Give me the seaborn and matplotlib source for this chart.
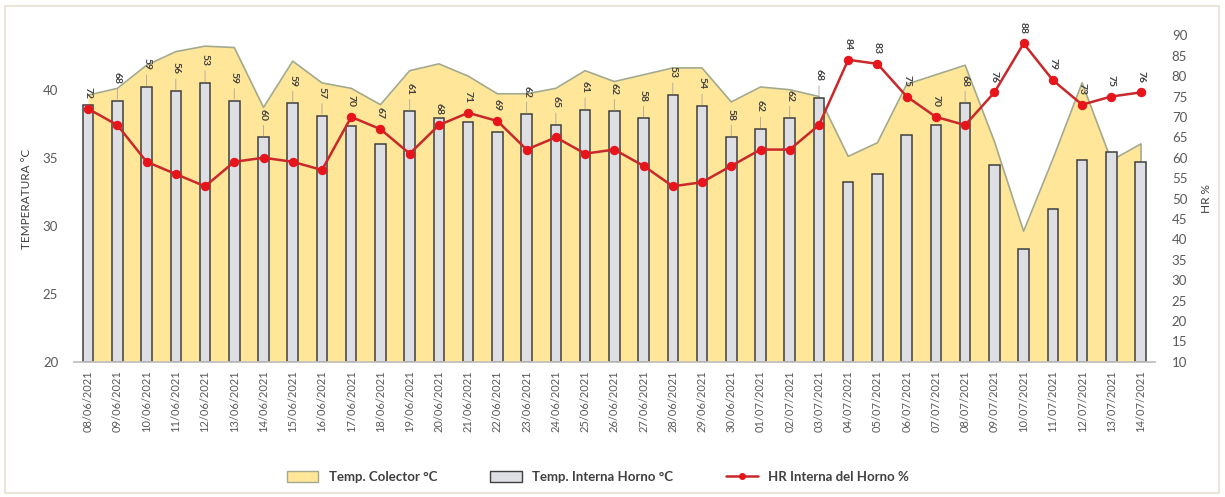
import numpy as np
import pandas as pd
import matplotlib
matplotlib.use('Agg')
import matplotlib.pyplot as plt
import seaborn as sns
from matplotlib.patches import Patch, Rectangle
from matplotlib.lines import Line2D

fechas = ['08/06/2021', '09/06/2021', '10/06/2021', '11/06/2021', '12/06/2021',
          '13/06/2021', '14/06/2021', '15/06/2021', '16/06/2021', '17/06/2021',
          '18/06/2021', '19/06/2021', '20/06/2021', '21/06/2021', '22/06/2021',
          '23/06/2021', '24/06/2021', '25/06/2021', '26/06/2021', '27/06/2021',
          '28/06/2021', '29/06/2021', '30/06/2021', '01/07/2021', '02/07/2021',
          '03/07/2021', '04/07/2021', '05/07/2021', '06/07/2021', '07/07/2021',
          '08/07/2021', '09/07/2021', '10/07/2021', '11/07/2021', '12/07/2021',
          '13/07/2021', '14/07/2021']

temp_colector = [39.6, 40.1, 41.8, 42.8, 43.2, 43.1, 38.7, 42.1, 40.5, 40.1,
                 38.9, 41.4, 41.9, 41.0, 39.7, 39.7, 40.1, 41.4, 40.6, 41.1,
                 41.6, 41.6, 39.1, 40.2, 40.0, 39.5, 35.1, 36.1, 40.4, 41.1,
                 41.8, 36.2, 29.6, 34.9, 40.5, 34.8, 36.0]

temp_horno = [38.9, 39.2, 40.2, 39.9, 40.5, 39.2, 36.5, 39.0, 38.1, 37.3,
              36.0, 38.4, 37.9, 37.6, 36.9, 38.2, 37.4, 38.5, 38.4, 37.9,
              39.6, 38.8, 36.5, 37.1, 37.9, 39.4, 33.2, 33.8, 36.7, 37.4,
              39.0, 34.5, 28.3, 31.2, 34.8, 35.4, 34.7]

hr_horno = [72, 68, 59, 56, 53, 59, 60, 59, 57, 70, 67, 61, 68, 71, 69, 62, 65,
            61, 62, 58, 53, 54, 58, 62, 62, 68, 84, 83, 75, 70, 68, 76, 88, 79,
            73, 75, 76]

df = pd.DataFrame({'fecha': fechas, 'colector': temp_colector,
                   'horno': temp_horno, 'hr': hr_horno})
n = len(df)
pos = np.arange(n)

sns.set_theme(style='white')
plt.rcParams['font.family'] = ['Lato', 'DejaVu Sans']

c_area = '#FFE699'
c_area_edge = '#A3AA8C'
c_bar = '#DEDFE4'
c_bar_edge = '#3F3F3F'
c_line = '#C8282A'
c_mark = '#E8141B'
c_txt = '#595959'

fig = plt.figure(figsize=(12.25, 4.97), dpi=100)
ax = fig.add_axes([0.060, 0.272, 0.883, 0.657])

# area: temp colector
ax.fill_between(pos, 20, df['colector'], color=c_area, zorder=1, lw=0)
ax.plot(pos, df['colector'], color=c_area_edge, lw=1.2, zorder=1.5)
ax.plot([pos[-1], pos[-1]], [20, df['colector'].iloc[-1]], color=c_area_edge, lw=1.2, zorder=1.5)

# bars: temp interna horno
sns.barplot(data=df, x='fecha', y='horno', ax=ax, color=c_bar, width=0.36,
            edgecolor=c_bar_edge, linewidth=1.1, zorder=2, saturation=1)
for b in ax.patches:
    b.set_y(20)
    b.set_height(b.get_height() - 20)

ax.set_xlim(-0.5, n - 0.5)
ax.set_ylim(20, 44)
ax.set_yticks([20, 25, 30, 35, 40])
ax.set_xlabel('')
ax.set_ylabel('TEMPERATURA °C', fontsize=8.5, color='#404040', labelpad=8)
ax.tick_params(axis='y', labelsize=9.5, colors=c_txt, length=0, pad=11)
ax.tick_params(axis='x', which='major', labelsize=8, colors=c_txt, length=0,
               rotation=90, pad=6)
ax.set_xticks(np.arange(-0.5, n, 1), minor=True)
ax.tick_params(axis='x', which='minor', length=4, color='#bfbfbf', width=0.8)
for s in ['left', 'right', 'top']:
    ax.spines[s].set_visible(False)
ax.spines['bottom'].set_color('#bfbfbf')
ax.spines['bottom'].set_zorder(3)

# line: HR
ax2 = ax.twinx()
sns.lineplot(x=pos, y=df['hr'], ax=ax2, color=c_line, lw=1.8, marker='o',
             markersize=6, markerfacecolor=c_mark, markeredgecolor=c_mark, zorder=4)
ax2.set_ylim(10, 90)
ax2.set_yticks(np.arange(10, 91, 5))
ax2.set_ylabel('HR %', fontsize=8.5, color='#404040', labelpad=10)
ax2.tick_params(axis='y', labelsize=9.5, colors=c_txt, length=0, pad=12)
for s in ax2.spines.values():
    s.set_visible(False)

# data labels
for i in range(n):
    hr = df['hr'].iloc[i]
    bar_hr = 10 + (df['horno'].iloc[i] - 20) * 80 / 24
    if bar_hr > hr + 2:
        ax2.annotate(f'{hr:.0f}', xy=(i, bar_hr), xytext=(0, 12),
                     textcoords='offset points', rotation=270, ha='center',
                     va='bottom', fontsize=7.5, fontweight='bold', color='#404040',
                     arrowprops=dict(arrowstyle='-', color='#a6a6a6', lw=0.6,
                                     shrinkA=1, shrinkB=1))
    else:
        ax2.annotate(f'{hr:.0f}', xy=(i, hr), xytext=(0, 7),
                     textcoords='offset points', rotation=270, ha='center',
                     va='bottom', fontsize=7.5, fontweight='bold', color='#404040')

handles = [Patch(facecolor=c_area, edgecolor=c_area_edge, lw=1),
           Patch(facecolor=c_bar, edgecolor=c_bar_edge, lw=1),
           Line2D([0], [0], color=c_line, lw=1.8, marker='o', markersize=4,
                  markerfacecolor=c_mark, markeredgecolor=c_mark)]
labels = ['Temp. Colector °C', 'Temp. Interna Horno °C', 'HR Interna del Horno %']
fig.legend(handles, labels, loc='center', bbox_to_anchor=(0.488, 0.04), ncol=3,
           frameon=False, prop={'weight': 'bold', 'size': 9.5},
           handlelength=2.4, handleheight=0.8, columnspacing=4.0, labelcolor='#404040')

fig.patches.append(Rectangle((0.004, 0.008), 0.991, 0.98, transform=fig.transFigure,
                             fill=False, edgecolor='#ECE6D8', lw=1.5))

plt.savefig('out.png', dpi=100)
plt.close()
